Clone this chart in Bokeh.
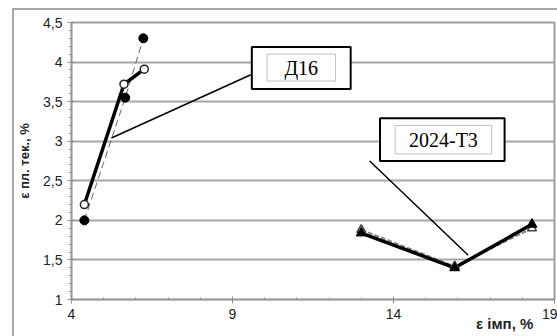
from bokeh.plotting import figure
from bokeh.models import (FixedTicker, CustomJSTickFormatter, Label, BoxAnnotation,
                          ColumnDataSource, Range1d)
from bokeh.embed import file_html
from bokeh.resources import INLINE

# ---- data ----
d16_x_a = [4.4, 5.67, 6.23]
d16_y_a = [2.0, 3.55, 4.3]      # filled circles, dashed
d16_x_b = [4.4, 5.63, 6.26]
d16_y_b = [2.2, 3.72, 3.91]     # open circles, thick solid
t3_x_a = [13.0, 15.9, 18.3]
t3_y_a = [1.84, 1.40, 1.95]     # filled triangles, thick solid
t3_x_b = [13.0, 15.9, 18.3]
t3_y_b = [1.88, 1.42, 1.90]     # open triangles, dashed
x_ticks = [4, 9, 14, 19]
y_ticks = [1, 1.5, 2, 2.5, 3, 3.5, 4, 4.5]

W, H = 545, 328
p = figure(width=W, height=H, output_backend="svg", toolbar_location=None,
           x_range=Range1d(4, 19), y_range=Range1d(1, 4.5),
           min_border_left=54, min_border_right=5, min_border_top=12, min_border_bottom=39)
p.styles = {"margin-left": "12px", "margin-top": "8px",
            "border-left": "2px solid #a8a8a8", "border-top": "2px solid #a8a8a8"}
p.background_fill_color = "white"
p.border_fill_color = "white"
p.outline_line_color = "#a0a0a0"
p.outline_line_width = 2

p.xaxis.ticker = FixedTicker(ticks=x_ticks, minor_ticks=list(range(4, 20)))
p.yaxis.ticker = FixedTicker(ticks=y_ticks, minor_ticks=[1 + 0.1 * i for i in range(36)])
p.yaxis.formatter = CustomJSTickFormatter(code="return tick.toString().replace('.', ',');")
for ax in (p.xaxis, p.yaxis):
    ax.axis_line_color = "#999999"
    ax.axis_line_width = 1.5
    ax.major_tick_line_color = "#888888"
    ax.minor_tick_line_color = "#999999"
    ax.major_tick_in = 3
    ax.major_tick_out = 4
    ax.minor_tick_in = 0
    ax.minor_tick_out = 3
    ax.major_label_text_font = "Liberation Sans"
    ax.major_label_text_font_size = "14px"
    ax.major_label_text_color = "#222222"
p.xaxis.minor_tick_in = 2
p.xaxis.minor_tick_out = 0
p.xaxis.major_label_standoff = 5
p.yaxis.major_label_standoff = 5
p.xgrid.grid_line_color = None
p.ygrid.grid_line_color = "#a6a6a6"
p.ygrid.grid_line_width = 2

p.yaxis.axis_label = "ε пл. тек., %"
p.yaxis.axis_label_text_font = "Liberation Sans"
p.yaxis.axis_label_text_font_style = "bold"
p.yaxis.axis_label_text_font_size = "13px"
p.yaxis.axis_label_text_color = "#222222"
p.yaxis.axis_label_standoff = 8

# x-axis title sits at the right, on the tick-label row
p.xaxis.axis_label = "\u00a0" * 92 + "ε імп, %"
p.xaxis.axis_label_text_font = "Liberation Sans"
p.xaxis.axis_label_text_font_style = "bold"
p.xaxis.axis_label_text_font_size = "15px"
p.xaxis.axis_label_text_color = "#222222"
p.xaxis.axis_label_standoff = -7

# ---- series ----
p.line(d16_x_a, d16_y_a, line_color="#666666", line_width=1, line_dash="7 4")
p.line(d16_x_b, d16_y_b, line_color="black", line_width=3.5)
p.scatter(d16_x_b, d16_y_b, marker="circle", size=8, fill_color="white",
          line_color="#222222", line_width=1.5)
p.scatter(d16_x_a, d16_y_a, marker="circle", size=9, fill_color="black", line_color="black")

p.line(t3_x_b, t3_y_b, line_color="#888888", line_width=2, line_dash="5 2")
p.line(t3_x_a, t3_y_a, line_color="black", line_width=3.5)
p.scatter(t3_x_b, t3_y_b, marker="triangle", size=9, fill_color="white",
          line_color="#444444", line_width=1.5)
p.scatter(t3_x_a, t3_y_a, marker="triangle", size=10, fill_color="black", line_color="black")

# ---- annotations ----
leaders = ColumnDataSource(dict(x0=[9.57, 13.26], y0=[3.84, 2.75], x1=[5.24, 16.32], y1=[3.04, 1.56]))
p.segment("x0", "y0", "x1", "y1", source=leaders, line_color="black", line_width=1.5)

def framed_label(l, r, b, t, il, ir, ib, it, text):
    p.add_layout(BoxAnnotation(left=l, right=r, bottom=b, top=t,
                               fill_color="white", fill_alpha=1,
                               line_color="black", line_alpha=1, line_width=2))
    p.add_layout(BoxAnnotation(left=il, right=ir, bottom=ib, top=it,
                               fill_color="white", fill_alpha=1,
                               line_color="#c0c0c0", line_alpha=1, line_width=1))
    p.add_layout(Label(x=(il + ir) / 2, y=(ib + it) / 2, text=text, text_align="center",
                       text_baseline="middle", text_font="Liberation Serif",
                       text_font_size="20px", text_color="black"))

framed_label(9.6, 12.67, 3.66, 4.19, 10.07, 12.2, 3.76, 4.10, "Д16")
framed_label(13.58, 17.45, 2.75, 3.29, 14.05, 17.05, 2.84, 3.2, "2024-T3")

open("out.html", "w").write(file_html(p, INLINE))
